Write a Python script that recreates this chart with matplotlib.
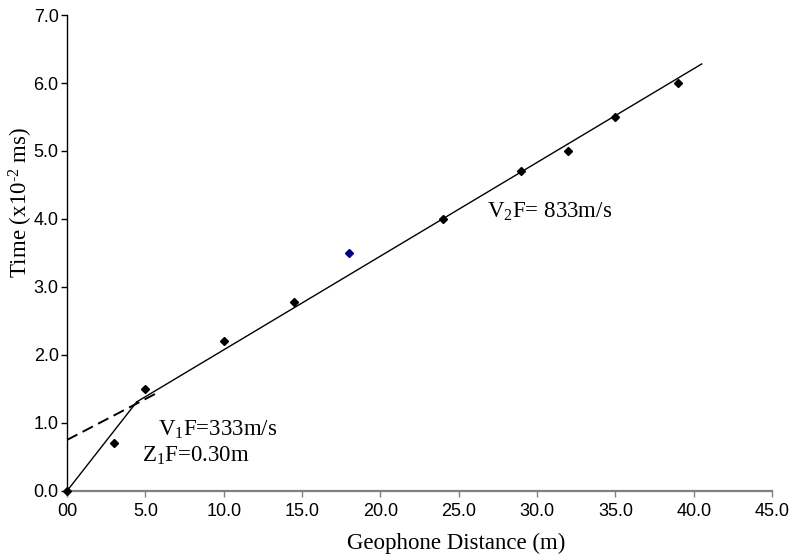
import matplotlib
matplotlib.use("Agg")
import matplotlib.pyplot as plt

# picked-off travel times
dist = [0.0, 3.0, 5.0, 10.0, 14.5, 24.0, 29.0, 32.0, 35.0, 39.0]
time = [0.0, 0.7, 1.5, 2.2, 2.78, 4.0, 4.7, 5.0, 5.5, 6.0]
odd_dist = [18.0]
odd_time = [3.5]

# fitted segments
direct_x = [0.0, 4.45]
direct_y = [0.0, 1.31]
refr_x = [4.45, 40.5]
refr_y = [1.31, 6.28]
dash_x = [0.0, 5.9]
dash_y = [0.75, 1.46]

xticks = [0, 5, 10, 15, 20, 25, 30, 35, 40, 45]
xlabels = ["00", "5.0", "10.0", "15.0", "20.0", "25.0", "30.0", "35.0", "40.0", "45.0"]
yticks = [0, 1, 2, 3, 4, 5, 6, 7]

SERIF = "Liberation Serif"
SANS = "Liberation Sans"

plt.rcParams["font.family"] = SANS
plt.rcParams["mathtext.fontset"] = "custom"
plt.rcParams["mathtext.rm"] = SERIF
plt.rcParams["mathtext.it"] = SERIF + ":italic"
plt.rcParams["mathtext.default"] = "rm"

fig = plt.figure(figsize=(7.92, 5.56), dpi=100)
ax = fig.add_axes([0.0846, 0.117, 0.8904, 0.856])

ax.plot(direct_x, direct_y, color="black", lw=1.0)
ax.plot(refr_x, refr_y, color="black", lw=1.0)
ax.plot(dash_x, dash_y, color="black", lw=1.4, dashes=(6, 3))
ax.plot(dist, time, "D", color="black", ms=4.5, clip_on=False, zorder=5)
ax.plot(odd_dist, odd_time, "D", color="#000080", ms=4.5, zorder=5)

ax.set_xlim(0, 45)
ax.set_ylim(0, 7)
ax.set_xticks(xticks)
ax.set_xticklabels(xlabels)
ax.set_yticks(yticks)
ax.set_yticklabels([f"{v:.1f}" for v in yticks])

for s in ("top", "right"):
    ax.spines[s].set_visible(False)
ax.spines["left"].set_color("black")
ax.spines["left"].set_linewidth(1.0)
ax.spines["bottom"].set_color("#808080")
ax.spines["bottom"].set_linewidth(1.6)
ax.tick_params(axis="y", direction="out", length=4, width=1.0, color="black",
               pad=2, labelsize=13)
ax.tick_params(axis="x", direction="out", length=4, width=1.0, color="#808080",
               pad=5, labelsize=13)

ax.set_xlabel("Geophone Distance (m)", family=SERIF, fontsize=16.5)
ax.set_ylabel("Time (x10$^{\u2010 2}$ ms)", family=SERIF, fontsize=16.5)
ax.xaxis.set_label_coords(0.552, -0.088)
ax.yaxis.set_label_coords(-0.046, 0.607)

ax.text(26.8, 4.1, "V$_2$F= 833m/s", family=SERIF, fontsize=16.5, va="center")
ax.text(5.8, 0.9, "V$_1$F=333m/s", family=SERIF, fontsize=16.5, va="center")
ax.text(4.8, 0.52, "Z$_1$F=0.30m", family=SERIF, fontsize=16.5, va="center")

fig.savefig("out.png", dpi=100)
